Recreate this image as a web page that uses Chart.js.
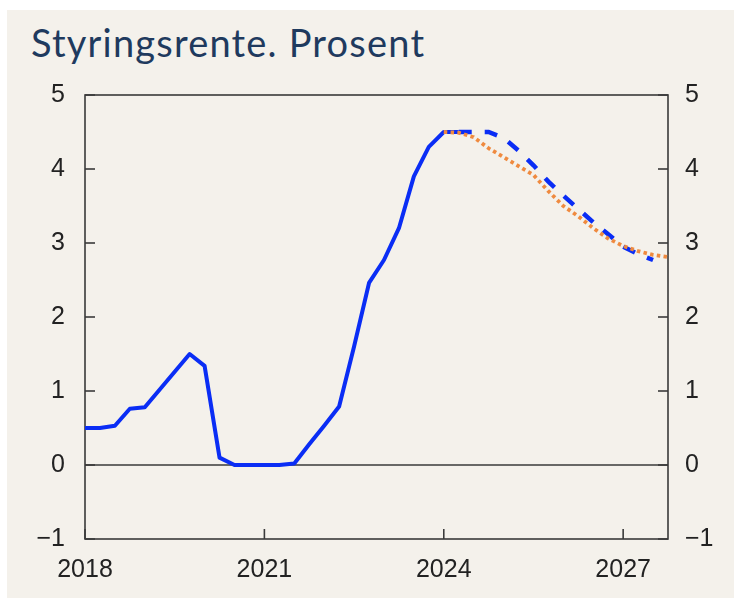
<!DOCTYPE html>
<html>
<head>
<meta charset="utf-8">
<script src="https://cdn.jsdelivr.net/npm/chart.js@4/dist/chart.umd.min.js"></script>
<style>
  html, body { margin: 0; padding: 0; background: #ffffff; }
  #panel { position: absolute; left: 7px; top: 10px; width: 727px; height: 588px; background: #f4f1eb; }
  #title { position: absolute; left: 31px; top: 20px; margin: 0; font-family: "Lato", "Open Sans", sans-serif; font-weight: 400; font-size: 38px; letter-spacing: 1.2px; line-height: 44px; color: #1f3a5e; white-space: nowrap; }
  #wrap { position: absolute; left: 0; top: 0; width: 734px; height: 598px; }
</style>
</head>
<body>
<div id="panel"></div>
<div id="title">Styringsrente. Prosent</div>
<div id="wrap"><canvas id="c" width="734" height="598"></canvas></div>
<script>
// Quarterly categories
const categories = [
  '2018K1','2018K2','2018K3','2018K4',
  '2019K1','2019K2','2019K3','2019K4',
  '2020K1','2020K2','2020K3','2020K4',
  '2021K1','2021K2','2021K3','2021K4',
  '2022K1','2022K2','2022K3','2022K4',
  '2023K1','2023K2','2023K3','2023K4',
  '2024K1','2024K2','2024K3','2024K4',
  '2025K1','2025K2','2025K3','2025K4',
  '2026K1','2026K2','2026K3','2026K4',
  '2027K1','2027K2','2027K3','2027K4'
];
// Historical policy rate (solid blue)
const historical = [
  0.50, 0.50, 0.53, 0.76,
  0.78, 1.02, 1.26, 1.50,
  1.34, 0.10, 0.00, 0.00,
  0.00, 0.00, 0.02, 0.28,
  0.53, 0.79, 1.60, 2.46,
  2.77, 3.20, 3.90, 4.30,
  4.50, 4.50, null, null,
  null, null, null, null,
  null, null, null, null,
  null, null, null, null
];
// New forecast (dashed blue)
const forecastNew = [
  null, null, null, null,
  null, null, null, null,
  null, null, null, null,
  null, null, null, null,
  null, null, null, null,
  null, null, null, null,
  null, 4.50, 4.50, 4.50,
  4.42, 4.25, 4.05, 3.83,
  3.64, 3.46, 3.28, 3.12,
  2.95, 2.85, 2.77, null
];
// Previous forecast (dotted orange)
const forecastPrev = [
  null, null, null, null,
  null, null, null, null,
  null, null, null, null,
  null, null, null, null,
  null, null, null, null,
  null, null, null, null,
  4.50, 4.49, 4.43, 4.28,
  4.16, 4.04, 3.92, 3.70,
  3.50, 3.36, 3.20, 3.06,
  2.96, 2.89, 2.84, 2.81
];
// Tick labels
const xTickYears = ['2018', '2021', '2024', '2027'];
const yTicks = [-1, 0, 1, 2, 3, 4, 5];

const BLUE = '#0a2df5';
const ORANGE = '#ef8a3f';
const AXIS = '#3a3a3a';
const TEXT = '#222222';
const tickFont = { family: '"Liberation Sans", Arial, sans-serif', size: 25 };

function fmt(v) { return v < 0 ? '\u2212' + Math.abs(v) : String(v); }

const framePlugin = {
  id: 'frame',
  beforeDatasetsDraw(chart) {
    const { ctx, chartArea: a, scales } = chart;
    const y = scales.y, x = scales.x;
    ctx.save();
    ctx.strokeStyle = AXIS;
    ctx.lineWidth = 1.6;
    ctx.strokeRect(a.left, a.top, a.right - a.left, a.bottom - a.top);
    const y0 = y.getPixelForValue(0);
    ctx.beginPath(); ctx.moveTo(a.left, y0); ctx.lineTo(a.right, y0); ctx.stroke();
    const TL = 10;
    yTicks.forEach(v => {
      const py = y.getPixelForValue(v);
      ctx.beginPath(); ctx.moveTo(a.left, py); ctx.lineTo(a.left + TL, py); ctx.stroke();
      ctx.beginPath(); ctx.moveTo(a.right, py); ctx.lineTo(a.right - TL, py); ctx.stroke();
    });
    xTickYears.forEach(yr => {
      const idx = categories.indexOf(yr + 'K1');
      const px = x.getPixelForValue(idx);
      ctx.beginPath(); ctx.moveTo(px, a.bottom); ctx.lineTo(px, a.bottom - TL); ctx.stroke();
    });
    ctx.restore();
  }
};

new Chart(document.getElementById('c'), {
  type: 'line',
  data: {
    labels: categories,
    datasets: [
      { label: 'Styringsrente', data: historical, borderColor: BLUE, borderWidth: 4, pointRadius: 0, tension: 0, order: 3, borderJoinStyle: 'round' },
      { label: 'Ny prognose', data: forecastNew, borderColor: BLUE, borderWidth: 4.5, borderDash: [13, 13], pointRadius: 0, tension: 0, order: 2 },
      { label: 'Forrige prognose', data: forecastPrev, borderColor: ORANGE, borderWidth: 3.8, borderDash: [3.5, 3.3], pointRadius: 0, tension: 0, order: 1 }
    ]
  },
  options: {
    responsive: false,
    animation: false,
    layout: { padding: { top: 95, left: 0, right: 0, bottom: 0 } },
    plugins: { legend: { display: false }, tooltip: { enabled: false }, title: { display: false } },
    scales: {
      x: {
        type: 'category',
        offset: false,
        grid: { display: false, drawTicks: false },
        border: { display: false },
        ticks: {
          autoSkip: false, maxRotation: 0, minRotation: 0, padding: 16,
          color: TEXT, font: tickFont,
          callback: function (val) {
            const lab = this.getLabelForValue(val);
            const yr = lab.slice(0, 4);
            return (lab.endsWith('K1') && xTickYears.includes(yr)) ? yr : '';
          }
        },
        afterFit(s) { s.height = 59; }
      },
      y: {
        position: 'left', min: -1, max: 5,
        grid: { display: false, drawTicks: false },
        border: { display: false },
        ticks: { stepSize: 1, padding: 20, color: TEXT, font: tickFont, callback: fmt },
        afterFit(s) { s.width = 85; }
      },
      y1: {
        position: 'right', min: -1, max: 5,
        grid: { display: false, drawTicks: false },
        border: { display: false },
        ticks: { stepSize: 1, padding: 17, color: TEXT, font: tickFont, callback: fmt },
        afterFit(s) { s.width = 66; }
      }
    }
  },
  plugins: [framePlugin]
});
</script>
</body>
</html>
